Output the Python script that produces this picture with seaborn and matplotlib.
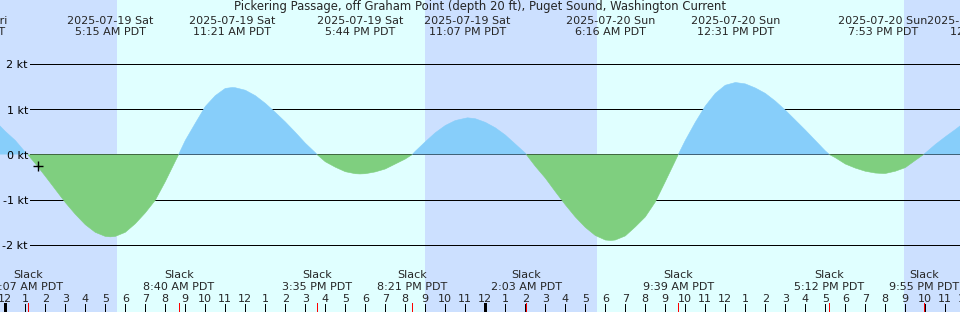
import numpy as np
import pandas as pd
import matplotlib
matplotlib.use("Agg")
import matplotlib.pyplot as plt
import matplotlib.transforms as mtransforms
import seaborn as sns

# ---------------- data ----------------
title = "Pickering Passage, off Graham Point (depth 20 ft), Puget Sound, Washington Current"

# hours counted from 2025-07-19 00:00 PDT; current in knots (+ flood, - ebb)
sample_hours = [-0.265, 0, 0.5, 1, 1.5, 2, 2.5, 3, 3.5, 4, 4.5, 5, 5.5, 6, 6.5, 7, 7.5,
                8, 8.5, 9, 9.5, 10, 10.5, 11, 11.5, 12, 12.5, 13, 13.5, 14, 14.5, 15,
                15.5, 16, 16.5, 17, 17.5, 18, 18.5, 19, 19.5, 20, 20.5, 21, 21.5, 22,
                22.5, 23, 23.5, 24, 24.5, 25, 25.5, 26, 26.5, 27, 27.5, 28, 28.5, 29,
                29.5, 30, 30.5, 31, 31.5, 32, 32.5, 33, 33.5, 34, 34.5, 35, 35.5, 36,
                36.5, 37, 37.5, 38, 38.5, 39, 39.5, 40, 40.5, 41, 41.5, 42, 42.5, 43,
                43.5, 44, 44.5, 45, 45.5, 46, 46.5, 47, 47.5, 47.735]
sample_kt = [0.63, 0.51, 0.31, 0.05, -0.20, -0.48, -0.77, -1.06, -1.32, -1.55, -1.72,
             -1.81, -1.81, -1.72, -1.53, -1.29, -1.01, -0.60, -0.15, 0.31, 0.69, 1.06,
             1.30, 1.46, 1.475, 1.42, 1.30, 1.13, 0.93, 0.72, 0.49, 0.25, 0.04, -0.16,
             -0.28, -0.38, -0.425, -0.425, -0.385, -0.32, -0.21, -0.10, 0.07, 0.28,
             0.48, 0.64, 0.75, 0.80, 0.79, 0.71, 0.59, 0.43, 0.23, 0.03, -0.26, -0.52,
             -0.82, -1.11, -1.38, -1.61, -1.79, -1.89, -1.89, -1.80, -1.60, -1.38,
             -1.05, -0.60, -0.14, 0.31, 0.71, 1.07, 1.35, 1.53, 1.59, 1.56, 1.47, 1.35,
             1.18, 0.98, 0.76, 0.54, 0.31, 0.08, -0.07, -0.21, -0.30, -0.37, -0.41,
             -0.42, -0.37, -0.29, -0.13, 0.03, 0.22, 0.39, 0.55, 0.63]

# maximum flood / ebb events
max_hours = [5.25, 11.35, 17.733, 23.117, 30.267, 36.517, 43.883]
max_kt = [-1.82, 1.48, -0.43, 0.81, -1.90, 1.59, -0.42]
max_dates = ["2025-07-19 Sat", "2025-07-19 Sat", "2025-07-19 Sat", "2025-07-19 Sat",
             "2025-07-20 Sun", "2025-07-20 Sun", "2025-07-20 Sun"]
max_times = ["5:15 AM PDT", "11:21 AM PDT", "5:44 PM PDT", "11:07 PM PDT",
             "6:16 AM PDT", "12:31 PM PDT", "7:53 PM PDT"]

# slack events
slack_hours = [1.117, 8.667, 15.583, 20.35, 26.05, 33.65, 41.2, 45.917]
slack_times = ["1:07 AM PDT", "8:40 AM PDT", "3:35 PM PDT", "8:21 PM PDT",
               "2:03 AM PDT", "9:39 AM PDT", "5:12 PM PDT", "9:55 PM PDT"]

# partially visible labels at the edges
edge_left_date, edge_left_time = "2025-07-18 Fri", "9:55 PM PDT"
edge_right_date, edge_right_time = "2025-07-21 Mon", "12:26 AM PDT"

# sunrise / sunset (hours)
sunrise_hours = [5.585, 29.585]
sunset_hours = [20.985, 44.935]

ytick_values = [2, 1, 0, -1, -2]
ytick_labels = ["2 kt", "1 kt", "0 kt", "-1 kt", "-2 kt"]
hour_ticks = list(range(0, 49))
hour_labels = [str(h % 12 if h % 12 else 12) for h in hour_ticks]

now_hour, now_kt = 1.65, -0.265

# ---------------- style ----------------
sns.set_theme(style="white")
plt.rcParams["font.family"] = ["DejaVu Sans"]
FS = 8

NIGHT = "#cce0ff"
DAY = "#e0ffff"
FLOOD = "#87cefa"
EBB = "#7fcf7f"

W, H, DPI = 960, 312, 100
fig = plt.figure(figsize=(W / DPI, H / DPI), dpi=DPI)
ax = fig.add_axes([0, 0, 1, 1])

x0, x1 = -0.265, 47.735
Y0, Y1 = -3.481, 3.414

def yfrac(p):
    return 1 - p / H

xt = ax.get_xaxis_transform()

# background day / night
ax.axvspan(x0, sunrise_hours[0], color=NIGHT, lw=0, zorder=0)
ax.axvspan(sunrise_hours[0], sunset_hours[0], color=DAY, lw=0, zorder=0)
ax.axvspan(sunset_hours[0], sunrise_hours[1], color=NIGHT, lw=0, zorder=0)
ax.axvspan(sunrise_hours[1], sunset_hours[1], color=DAY, lw=0, zorder=0)
ax.axvspan(sunset_hours[1], x1, color=NIGHT, lw=0, zorder=0)

# grid lines
grid_start = (30 - 5.3) / 20.0
ax.hlines(ytick_values, grid_start, x1, colors="black", lw=0.72,
          antialiased=False, zorder=1)
lab_off = mtransforms.offset_copy(ax.transData, fig=fig, x=0, y=-4.3, units="dots")
for v, t in zip(ytick_values, ytick_labels):
    ax.text((28 - 5.3) / 20.0, v, t, ha="right", va="baseline", fontsize=FS,
            color="black", transform=lab_off, zorder=3)

# current curve
curve = pd.DataFrame({
    "hour": sample_hours + max_hours + slack_hours,
    "kt": sample_kt + max_kt + [0.0] * len(slack_hours),
}).sort_values("hour").reset_index(drop=True)

ax.fill_between(curve["hour"], curve["kt"], 0, where=curve["kt"] >= 0,
                interpolate=True, color=FLOOD, lw=0, zorder=2)
ax.fill_between(curve["hour"], curve["kt"], 0, where=curve["kt"] <= 0,
                interpolate=True, color=EBB, lw=0, zorder=2)

# outline segments drawn via seaborn
rows = []
seg = 0
prev_sign = None
for h, k in zip(curve["hour"], curve["kt"]):
    s = np.sign(k)
    if s == 0:
        rows.append((h, k, seg, "pending"))
        seg += 1
        prev_sign = None
        rows.append((h, k, seg, "pending"))
        continue
    if prev_sign is not None and s != prev_sign:
        seg += 1
    prev_sign = s
    rows.append((h, k, seg, "flood" if s > 0 else "ebb"))
seg_df = pd.DataFrame(rows, columns=["hour", "kt", "seg", "dir"])
dir_by_seg = seg_df[seg_df["dir"] != "pending"].groupby("seg")["dir"].first()
seg_df["dir"] = seg_df["seg"].map(dir_by_seg).fillna("flood")
sns.lineplot(data=seg_df, x="hour", y="kt", hue="dir", units="seg", estimator=None,
             palette={"flood": FLOOD, "ebb": EBB}, lw=0.4, legend=False,
             sort=True, ax=ax, zorder=2)

# "now" marker
sns.scatterplot(x=[now_hour], y=[now_kt], marker="+", s=55, color="black",
                linewidth=1.0, ax=ax, zorder=4, legend=False)

ax.set_xlim(x0, x1)
ax.set_ylim(Y0, Y1)
ax.set_axis_off()

# title and top labels
fig.text(0.5, yfrac(10), title, ha="center", va="baseline", fontsize=8.35)
for h, d, t in zip(max_hours, max_dates, max_times):
    ax.text(h, yfrac(24), d, ha="center", va="baseline", fontsize=FS, transform=xt)
    ax.text(h, yfrac(35), t, ha="center", va="baseline", fontsize=FS, transform=xt)
ax.text((7.3 - 5.3) / 20.0, yfrac(24), edge_left_date, ha="right", va="baseline",
        fontsize=FS, transform=xt)
ax.text((5.3 - 5.3) / 20.0, yfrac(35), edge_left_time, ha="right", va="baseline",
        fontsize=FS, transform=xt)
ax.text((926.7 - 5.3) / 20.0, yfrac(24), edge_right_date, ha="left", va="baseline",
        fontsize=FS, transform=xt)
ax.text((950 - 5.3) / 20.0, yfrac(35), edge_right_time, ha="left", va="baseline",
        fontsize=FS, transform=xt)

# bottom slack labels
for h, t in zip(slack_hours, slack_times):
    ax.text(h, yfrac(278.3), "Slack", ha="center", va="baseline", fontsize=FS, transform=xt)
    ax.text(h, yfrac(290), t, ha="center", va="baseline", fontsize=FS, transform=xt)

# hour labels and ticks
for h, lab in zip(hour_ticks, hour_labels):
    ax.text(h, yfrac(301.7), lab, ha="center", va="baseline", fontsize=FS, transform=xt)
normal = [h for h in hour_ticks if h % 24 != 0]
midnight = [h for h in hour_ticks if h % 24 == 0]
ax.vlines(normal, 0, yfrac(304), colors="black", lw=0.72, transform=xt,
          antialiased=False, zorder=5)
ax.vlines(midnight, 0, yfrac(303), colors="black", lw=2.16, transform=xt,
          antialiased=False, zorder=5)
ax.vlines(slack_hours, 0, yfrac(303), colors="red", lw=0.72, transform=xt,
          antialiased=False, zorder=6)

fig.savefig("out.png", dpi=DPI)
